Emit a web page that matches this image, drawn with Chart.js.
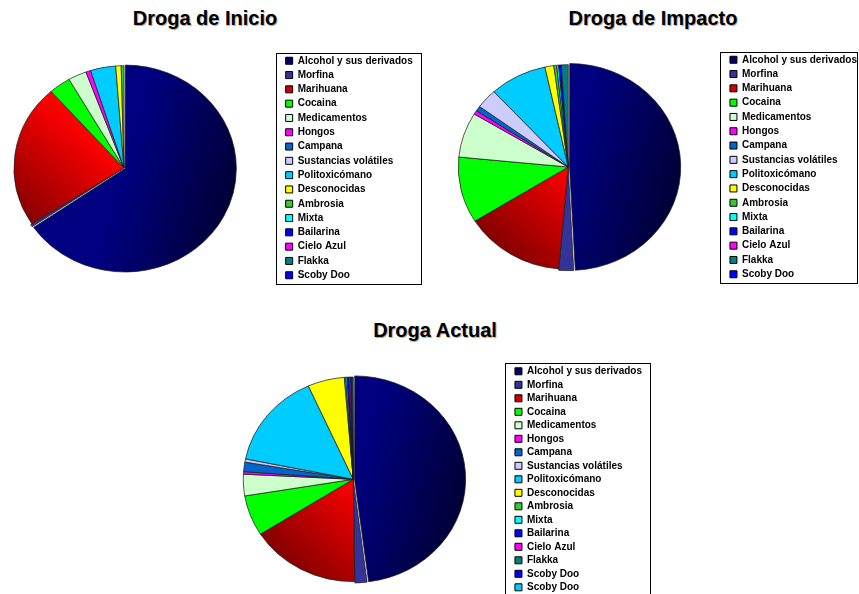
<!DOCTYPE html>
<html>
<head>
<meta charset="utf-8">
<script src="https://cdn.jsdelivr.net/npm/chart.js@4.4.1/dist/chart.umd.min.js"></script>
<style>
  html, body { margin: 0; padding: 0; background: #fff; }
  body { position: relative; width: 859px; height: 594px; overflow: hidden; font-family: "Liberation Sans", Arial, sans-serif; }
  .title { position: absolute; width: 240px; text-align: center; font-weight: bold; font-size: 20px; line-height: 20px; color: #000; text-shadow: 1px 1px 1px rgba(0,0,0,0.35); }
  .box { position: absolute; }
</style>
</head>
<body>
<div class="title" style="left:85px; top:8px">Droga de Inicio</div>
<div class="title" style="left:533px; top:8px">Droga de Impacto</div>
<div class="title" style="left:315px; top:320px">Droga Actual</div>
<div class="box" style="left:-40px; top:0; width:470px; height:300px"><canvas id="inicio"></canvas></div>
<div class="box" style="left:400px; top:0; width:470px; height:300px"><canvas id="impacto"></canvas></div>
<div class="box" style="left:185px; top:331px; width:475px; height:280px"><canvas id="actual"></canvas></div>
<script>
// categories
const drogas = ['Alcohol y sus derivados', 'Morfina', 'Marihuana', 'Cocaina', 'Medicamentos', 'Hongos', 'Campana',
    'Sustancias volátiles', 'Politoxicómano', 'Desconocidas', 'Ambrosia', 'Mixta', 'Bailarina', 'Cielo Azul',
    'Flakka', 'Scoby Doo']
const drogasActual = [...drogas, 'Scoby Doo']

// values (% of cases)
const inicio = [65.2, 0.4, 22.6, 3.2, 2.7, 0.7, 0, 0, 3.7, 0.8, 0.4, 0, 0, 0, 0, 0]
const impacto = [49.1, 2.2, 14.7, 10.4, 7.1, 0.6, 0.8, 3.1, 8.4, 1.3, 0.4, 0.3, 0.4, 0, 1.0, 0]
const actual = [48.0, 1.8, 16.2, 6.4, 3.4, 0.4, 1.5, 0.5, 15.1, 5.4, 0.2, 0.2, 0.3, 0.2, 0.1, 0.2, 0.1]

// slice colours (excel palette)
const colores = ['#000080', '#333399', '#ff0000', '#00ff00', '#ccffcc', '#ff00ff', '#0066cc', '#ccccff',
    '#00ccff', '#ffff00', '#33cc33', '#00ffff', '#0000ff', '#ff00ff', '#008080', '#0000ff', '#00ccff']
const coloresLeyenda = ['#000066', '#333399', '#cc0000', '#00ff00', '#ccffcc', '#ff00ff', '#0066cc', '#ccccff',
    '#00ccff', '#ffff00', '#33cc33', '#00ffff', '#0000ff', '#ff00ff', '#008080', '#0000ff', '#00ccff']
// shaded slices: darker edge colour and direction of the shading (degrees, canvas)
const sombra = { 0: '#000038', 2: '#850000' }
const sombraDir = { 0: 15, 2: 135 }

const RADIO = 110
const FONT = '"Liberation Sans", Arial, sans-serif'

// linear shading from the pie centre outwards
function relleno(c) {
    const i = c.dataIndex
    const area = c.chart.chartArea
    if (!sombra[i] || !area) return colores[i]
    const ang = sombraDir[i] * Math.PI / 180
    const cx = (area.left + area.right) / 2, cy = (area.top + area.bottom) / 2
    const g = c.chart.ctx.createLinearGradient(cx, cy, cx + RADIO * Math.cos(ang), cy + RADIO * Math.sin(ang))
    g.addColorStop(0, colores[i])
    g.addColorStop(1, sombra[i])
    return g
}

// excel pies come out slightly flattened
const aplastar = {
    id: 'aplastar',
    beforeDatasetsDraw(chart) {
        const a = chart.chartArea, ctx = chart.ctx
        const cx = (a.left + a.right) / 2, cy = (a.top + a.bottom) / 2
        ctx.save()
        ctx.translate(cx, cy)
        ctx.scale(1, 0.93)
        ctx.translate(-cx, -cy)
    },
    afterDatasetsDraw(chart) {
        chart.ctx.restore()
    }
}

// frame around the legend
const marcoLeyenda = {
    id: 'marcoLeyenda',
    afterDraw(chart, args, opts) {
        const boxes = chart.legend.legendHitBoxes
        if (!boxes || !boxes.length) return
        const ctx = chart.ctx
        let left = Math.min(...boxes.map(b => b.left)) - 9.5
        let right = Math.max(...boxes.map(b => b.left + b.width)) + 8.5
        if (opts.maxRight) right = Math.min(right, opts.maxRight)
        const top = Math.min(...boxes.map(b => b.top)) - 3
        const bottom = Math.max(...boxes.map(b => b.top + b.height)) + 3
        ctx.save()
        ctx.strokeStyle = '#000'
        ctx.lineWidth = 1
        ctx.strokeRect(Math.round(left) + 0.5, Math.round(top) + 0.5, Math.round(right - left), Math.round(bottom - top))
        ctx.restore()
    }
}

function pastel(id, labels, values, padding, legendPad, maxRight) {
    new Chart(document.getElementById(id), {
        type: 'pie',
        data: {
            labels: labels,
            datasets: [{
                data: values,
                radius: RADIO,
                backgroundColor: relleno,
                borderColor: '#1a1a1a',
                borderWidth: 0.75,
                offset: c => c.dataIndex === 0 ? 5 : (c.dataIndex === 1 ? 3 : 0)
            }]
        },
        options: {
            responsive: true,
            maintainAspectRatio: false,
            animation: false,
            layout: { padding: padding },
            plugins: {
                tooltip: { enabled: false },
                marcoLeyenda: { maxRight: maxRight },
                legend: {
                    position: 'right',
                    fullSize: false,
                    labels: {
                        boxWidth: 7,
                        boxHeight: 7,
                        padding: legendPad,
                        color: '#000',
                        font: { family: FONT, size: 10, weight: 'bold' },
                        generateLabels: chart => chart.data.labels.map((text, i) => ({
                            text: text,
                            fillStyle: coloresLeyenda[i],
                            strokeStyle: '#000',
                            lineWidth: 1,
                            hidden: false,
                            index: i
                        }))
                    }
                }
            }
        },
        plugins: [aplastar, marcoLeyenda]
    })
}

pastel('inicio', drogas, inicio, { left: 6.6, right: 7.3, top: 40, bottom: 4 }, 4.3)
pastel('impacto', drogas, impacto, { left: 10.9, right: 3, top: 40, bottom: 6 }, 4.3, 457.7)
pastel('actual', drogasActual, actual, { left: 10.1, right: 8, top: 20, bottom: 3.4 }, 3.5)
</script>
</body>
</html>
